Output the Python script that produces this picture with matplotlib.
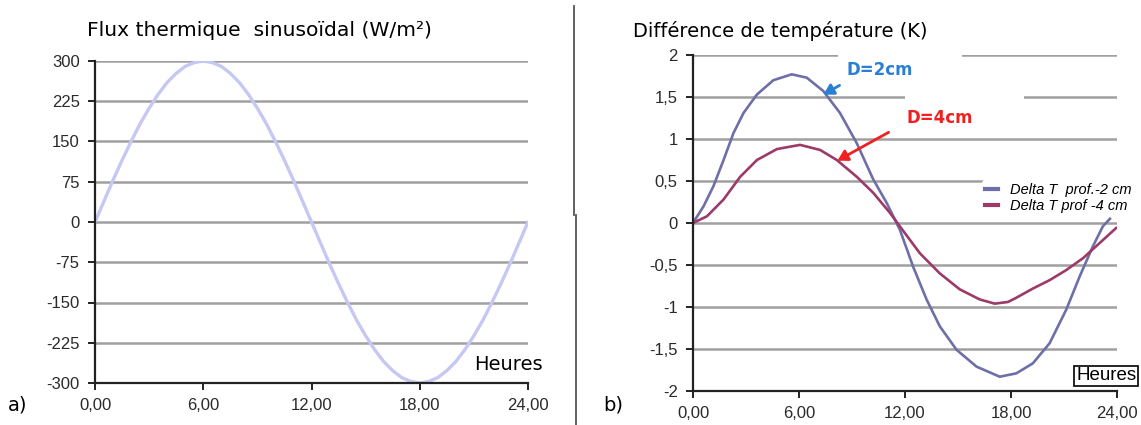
import matplotlib.pyplot as plt
from matplotlib.lines import Line2D
from matplotlib.patches import Rectangle

# --- data ---
# a) sinusoidal heat flux (W/m2), every half hour
heures_a = [0, 0.5, 1, 1.5, 2, 2.5, 3, 3.5, 4, 4.5, 5, 5.5, 6, 6.5, 7, 7.5, 8, 8.5,
            9, 9.5, 10, 10.5, 11, 11.5, 12, 12.5, 13, 13.5, 14, 14.5, 15, 15.5,
            16, 16.5, 17, 17.5, 18, 18.5, 19, 19.5, 20, 20.5, 21, 21.5, 22, 22.5,
            23, 23.5, 24]
flux = [0, 39, 78, 115, 150, 183, 212, 238, 260, 277, 290, 297, 300, 297, 290, 277,
        260, 238, 212, 183, 150, 115, 78, 39, 0, -39, -78, -115, -150, -183, -212,
        -238, -260, -277, -290, -297, -300, -297, -290, -277, -260, -238, -212,
        -183, -150, -115, -78, -39, 0]

# b) temperature difference (K)
heures_2cm = [0, 0.6, 1.16, 1.73, 2.29, 2.86, 3.62, 4.55, 5.59, 6.44, 7.38, 8.32,
              9.27, 10.2, 10.96, 11.71, 12.46, 13.22, 13.97, 14.92, 16.05, 17.36,
              18.3, 19.24, 20.19, 21.13, 21.88, 22.63, 23.2, 23.6]
dT_2cm = [0, 0.2, 0.44, 0.75, 1.07, 1.31, 1.53, 1.70, 1.77, 1.73, 1.57, 1.31,
          0.95, 0.52, 0.24, -0.08, -0.52, -0.91, -1.23, -1.51, -1.71, -1.83,
          -1.79, -1.67, -1.43, -1.03, -0.64, -0.28, -0.04, 0.05]

heures_4cm = [0, 0.79, 1.73, 2.67, 3.62, 4.75, 6.06, 7.19, 8.14, 9.27, 10.2, 11.15,
              11.71, 12.84, 13.97, 15.1, 16.23, 17.08, 17.83, 18.3, 19.24, 20.19,
              21.13, 22.07, 23.01, 23.95]
dT_4cm = [0, 0.08, 0.28, 0.55, 0.75, 0.88, 0.93, 0.87, 0.75, 0.55, 0.36, 0.12,
          -0.04, -0.36, -0.60, -0.79, -0.91, -0.96, -0.94, -0.89, -0.78, -0.68,
          -0.56, -0.42, -0.24, -0.06]

xticks = [0, 6, 12, 18, 24]
xticklabels = ["0,00", "6,00", "12,00", "18,00", "24,00"]
yticks_a = [300, 225, 150, 75, 0, -75, -150, -225, -300]
yticks_b = [2, 1.5, 1, 0.5, 0, -0.5, -1, -1.5, -2]
yticklabels_b = ["2", "1,5", "1", "0,5", "0", "-0,5", "-1", "-1,5", "-2"]

W, H = 1141, 425
fig = plt.figure(figsize=(W / 100, H / 100), dpi=100)
fig.patch.set_facecolor("white")

tick_font = dict(family="Liberation Sans", size=12, color="#2a2a2a")


def style_axes(ax):
    for s in ["top", "right"]:
        ax.spines[s].set_visible(False)
    for s in ["left", "bottom"]:
        ax.spines[s].set_color("#222222")
        ax.spines[s].set_linewidth(1.6)
    ax.tick_params(axis="both", direction="out", length=5, width=1.4,
                   color="#222222", pad=6)
    ax.yaxis.grid(True, color="#a0a0a0", linewidth=1.8)
    ax.set_axisbelow(True)
    ax.set_xlim(0, 24)
    ax.set_xticks(xticks)
    ax.set_xticklabels(xticklabels, **tick_font)


# ---- panel a ----
ax1 = fig.add_axes([95 / W, 1 - 383 / H, (528 - 95) / W, (383 - 61) / H])
style_axes(ax1)
ax1.plot(heures_a, flux, color="#c6c8f4", linewidth=2.4, solid_capstyle="round")
ax1.set_ylim(-300, 300)
ax1.set_yticks(yticks_a)
ax1.set_yticklabels([str(v) for v in yticks_a], **tick_font)
fig.text(87 / W, 1 - 30 / H, "Flux thermique  sinusoïdal (W/m²)",
         fontsize=14.6, family="DejaVu Sans", va="center", ha="left")
fig.text(474 / W, 1 - 364 / H, "Heures", fontsize=14, family="DejaVu Sans",
         va="center", ha="left")
fig.text(8 / W, 1 - 405 / H, "a)", fontsize=14, family="DejaVu Sans",
         va="center", ha="left")

# ---- panel b ----
ax2 = fig.add_axes([693 / W, 1 - 391 / H, (1117 - 693) / W, (391 - 55) / H])
style_axes(ax2)
ax2.set_ylim(-2, 2)
ax2.set_yticks(yticks_b)
ax2.set_yticklabels(yticklabels_b, **tick_font)
l1, = ax2.plot(heures_2cm, dT_2cm, color="#6e6fa8", linewidth=1.9,
               label="Delta T  prof.-2 cm")
l2, = ax2.plot(heures_4cm, dT_4cm, color="#9c3a68", linewidth=1.9,
               label="Delta T prof -4 cm")

# white gaps in the top grid lines
for x0, x1, y in [(838, 962, 2), (905, 1024, 1.5)]:
    ax2.add_patch(Rectangle(((x0 - 693) / 424 * 24, y - 0.06),
                            (x1 - x0) / 424 * 24, 0.12, facecolor="white",
                            edgecolor="none", zorder=1.5))

leg = ax2.legend(handles=[l1, l2], loc="upper left",
                 bbox_to_anchor=((975 - 693) / 424, 1 - (173 - 55) / 336),
                 frameon=True, framealpha=1, edgecolor="none",
                 prop=dict(family="Liberation Sans", style="italic", size=10.5),
                 handlelength=0.9, handletextpad=0.8, labelspacing=0.15,
                 borderpad=0.2)
for h in leg.legend_handles:
    h.set_linewidth(3)

fig.text(633 / W, 1 - 31 / H, "Différence de température (K)",
         fontsize=14, family="DejaVu Sans", va="center", ha="left")
fig.text(846 / W, 1 - 70 / H, "D=2cm", fontsize=12, family="DejaVu Sans",
         weight="bold", color="#2a7fd4", va="center", ha="left")
fig.text(906 / W, 1 - 118 / H, "D=4cm", fontsize=12, family="DejaVu Sans",
         weight="bold", color="#f02020", va="center", ha="left")


# arrows (figure pixel coords)
def px(x, y):
    return (x / W, 1 - y / H)


fig.add_artist(plt.Annotation("", xy=px(821, 96), xytext=px(842, 84),
                              xycoords="figure fraction",
                              textcoords="figure fraction",
                              arrowprops=dict(arrowstyle="-|>,head_length=0.6,head_width=0.35",
                                              color="#2a7fd4", lw=2)))
fig.add_artist(plt.Annotation("", xy=px(835, 162), xytext=px(891, 131),
                              xycoords="figure fraction",
                              textcoords="figure fraction",
                              arrowprops=dict(arrowstyle="-|>,head_length=0.6,head_width=0.35",
                                              color="#f02020", lw=2)))

fig.text(1076 / W, 1 - 376 / H, "Heures", fontsize=13.5, family="Liberation Sans",
         va="center", ha="left",
         bbox=dict(boxstyle="square,pad=0.1", facecolor="white",
                   edgecolor="black", linewidth=1.2))
fig.text(603 / W, 1 - 405 / H, "b)", fontsize=14, family="DejaVu Sans",
         va="center", ha="left")

# separator line between panels
fig.add_artist(Line2D([574 / W, 574 / W], [1 - 6 / H, 1 - 215 / H],
                      color="#555555", linewidth=1.3))
fig.add_artist(Line2D([576 / W, 576 / W], [1 - 215 / H, 0],
                      color="#555555", linewidth=1.3))

fig.savefig("out.png", dpi=100)
